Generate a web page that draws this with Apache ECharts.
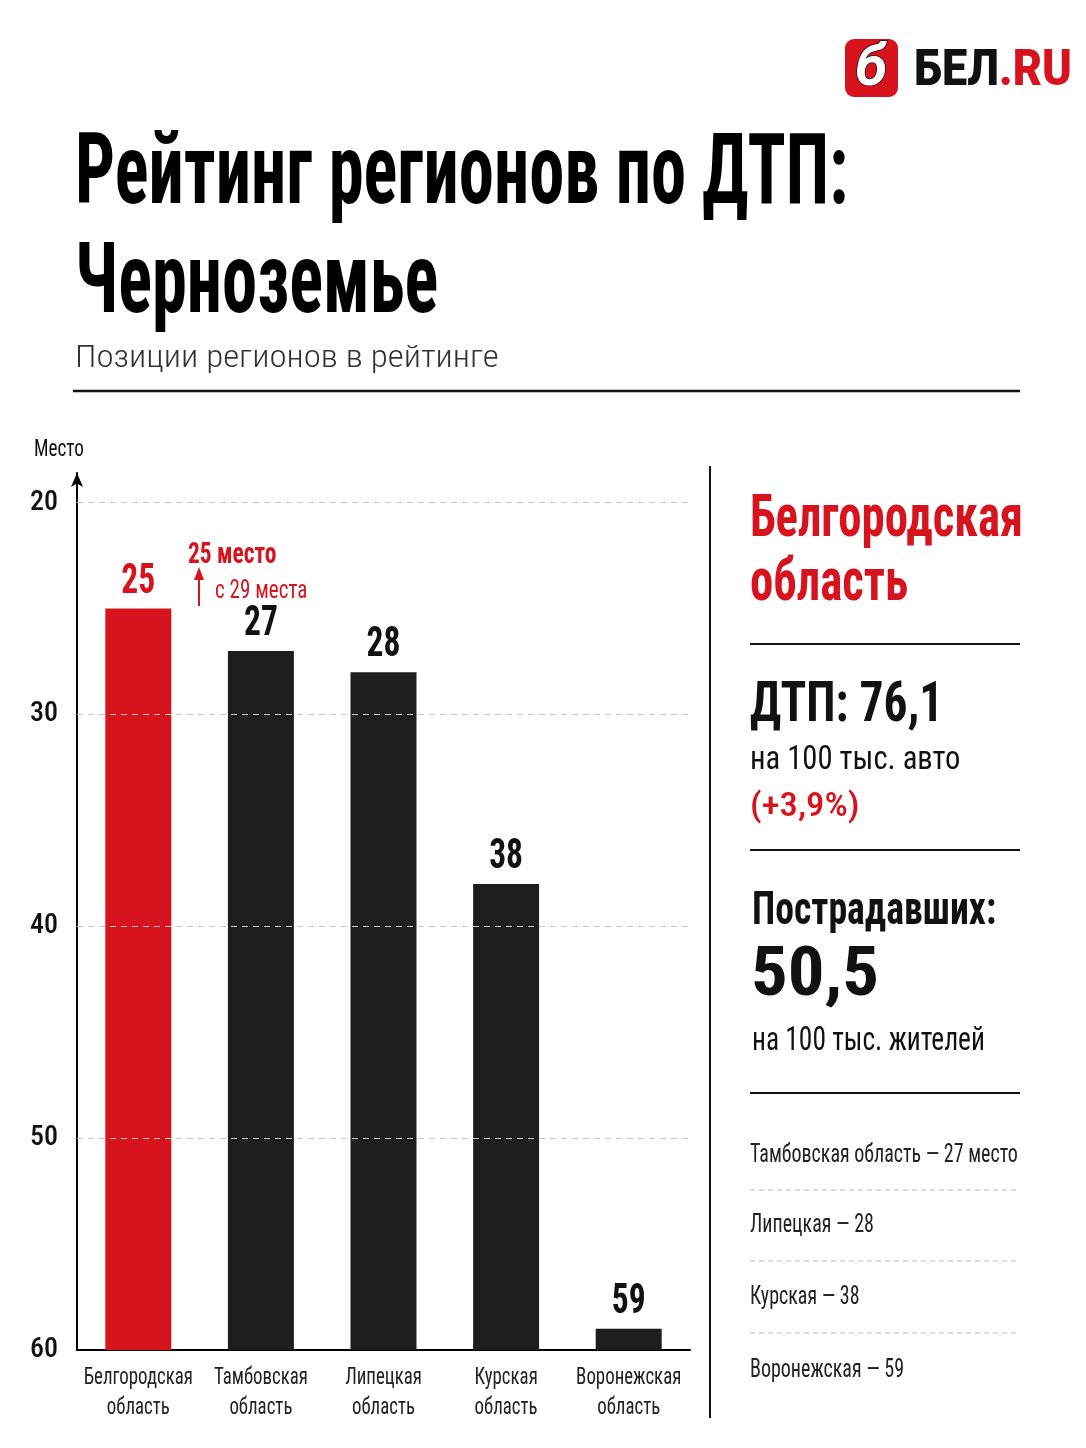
<!DOCTYPE html>
<html><head><meta charset="utf-8">
<script src="https://cdn.jsdelivr.net/npm/echarts@6/dist/echarts.min.js"></script>
<style>html,body{margin:0;padding:0;background:#fff}#c{width:1086px;height:1448px}</style>
</head><body><div id="c"></div>
<script>
const categories = ['Белгородская\nобласть','Тамбовская\nобласть','Липецкая\nобласть','Курская\nобласть','Воронежская\nобласть'];
const ranks = [25, 27, 28, 38, 59];
const yTicks = [20, 30, 40, 50, 60];
const listItems = ['Тамбовская область — 27 место','Липецкая — 28','Курская — 38','Воронежская — 59'];

const BOTTOM_RANK = 60;
const FONT = "'Liberation Sans Narrow', 'Roboto Condensed', 'DejaVu Sans Condensed', sans-serif";
const WIDE = "Roboto, 'Noto Sans', sans-serif";
const RED = '#d7141e', DARK = '#1e1e1e';

function T(x, y, text, size, weight, color, sx) {
  return { type: 'text', x: x, y: y, scaleX: sx || 1, silent: true,
    style: { text: text, fontSize: size, fontWeight: weight, fontFamily: FONT, fill: color,
      align: 'left', verticalAlign: 'middle' } };
}
function L(x1, y1, x2, y2, w, color, dash) {
  return { type: 'line', silent: true, shape: { x1: x1, y1: y1, x2: x2, y2: y2 },
    style: { stroke: color, lineWidth: w, lineDash: dash || null } };
}

const chart = echarts.init(document.getElementById('c'), null, { renderer: 'canvas' });
const option = {
  backgroundColor: '#fff',
  animation: false,
  grid: { left: 77, right: 396, top: 473, bottom: 98, containLabel: false },
  xAxis: {
    type: 'category', data: categories,
    axisLine: { lineStyle: { color: '#000', width: 2 } },
    axisTick: { show: false },
    axisLabel: { show: false }
  },
  yAxis: {
    type: 'value', min: 0, max: 41.4, interval: 10,
    axisLine: { show: true, symbol: ['none', 'arrow'], symbolSize: [9, 14], lineStyle: { color: '#000', width: 2 } },
    axisTick: { show: false },
    splitLine: { show: false },
    axisLabel: { fontFamily: FONT, fontSize: 28, fontWeight: 500, color: '#111', margin: 19,
      formatter: function (v) { return (v % 10 === 0) ? String(BOTTOM_RANK - v) : ''; } }
  },
  series: [{
    type: 'bar', barWidth: 66,
    data: ranks.map(function (r, i) {
      return { value: BOTTOM_RANK - r, itemStyle: { color: i === 0 ? RED : DARK } };
    }),
    markLine: {
      silent: true, symbol: ['none', 'none'], label: { show: false },
      lineStyle: { type: [6, 5], color: '#c8c8c8', width: 1 },
      data: yTicks.filter(function (t) { return t < BOTTOM_RANK; }).map(function (t) { return { yAxis: BOTTOM_RANK - t }; })
    }
  }, {
    type: 'custom', clip: false, silent: true,
    data: ranks.map(function (r, i) { return [i, BOTTOM_RANK - r, r]; }),
    renderItem: function (params, api) {
      const p = api.coord([api.value(0), api.value(1)]);
      const i = params.dataIndex;
      return { type: 'text', x: p[0], y: p[1] - 5, scaleX: 0.78,
        style: { text: String(api.value(2)), fontSize: 43, fontWeight: 'bold', fontFamily: FONT,
          fill: i === 0 ? RED : '#111', align: 'center', verticalAlign: 'bottom' } };
    }
  }, {
    type: 'custom', clip: false, silent: true,
    data: categories.map(function (c, i) { return [i, 0]; }),
    renderItem: function (params, api) {
      const p = api.coord([api.value(0), 0]);
      return { type: 'text', x: p[0], y: p[1] + 13, scaleX: 0.82,
        style: { text: categories[params.dataIndex], fontSize: 23, fontFamily: FONT, fill: '#222',
          align: 'center', verticalAlign: 'top', lineHeight: 30 } };
    }
  }],
  graphic: [
    { type: 'rect', silent: true, shape: { x: 845, y: 39, width: 53, height: 58, r: 9 }, style: { fill: RED } },
    { type: 'text', silent: true, x: 871, y: 70, style: { text: 'б', fontSize: 58, fontWeight: 'bold', fontStyle: 'italic', fontFamily: WIDE, fill: '#fff', stroke: '#111', lineWidth: 1.5, align: 'center', verticalAlign: 'middle' } },
    { type: 'text', silent: true, x: 914, y: 72, scaleX: 0.9,
      style: { text: '{a|БЕЛ}{b|.RU}', fontFamily: WIDE, verticalAlign: 'middle', align: 'left',
        rich: { a: { fontSize: 50, fontWeight: 900, fill: '#111', fontFamily: WIDE }, b: { fontSize: 50, fontWeight: 900, fill: RED, fontFamily: WIDE } } } },
    T(75, 178, 'Рейтинг регионов по ДТП:', 98, 'bold', '#000', 0.72),
    T(75, 287, 'Черноземье', 98, 'bold', '#000', 0.72),
    T(75, 359, 'Позиции регионов в рейтинге', 32, 300, '#333', 1.09),
    L(73, 391, 1020, 391, 2.5, '#111'),
    T(34, 450, 'Место', 24, 'normal', '#111', 0.8),
    T(188, 555, '25 место', 30, 'bold', RED, 0.78),
    L(199, 606, 199, 578, 2, RED),
    { type: 'polygon', silent: true, shape: { points: [[194, 580], [204, 580], [199, 567]] }, style: { fill: RED } },
    T(215, 591, 'с 29 места', 26, 'normal', RED, 0.81),
    L(710, 466, 710, 1418, 2, '#111'),
    T(750, 521, 'Белгородская', 60, 'bold', RED, 0.78),
    T(750, 585, 'область', 60, 'bold', RED, 0.78),
    L(750, 644, 1020, 644, 2, '#111'),
    T(750, 707, 'ДТП: 76,1', 56, 'bold', '#111', 0.85),
    T(750, 760, 'на 100 тыс. авто', 34, 'normal', '#111', 0.9),
    T(750, 807, '(+3,9%)', 34, 500, RED, 1.08),
    L(750, 850, 1020, 850, 2, '#111'),
    T(752, 912, 'Пострадавших:', 46, 'bold', '#111', 0.82),
    T(751, 978, '50,5', 68, 'bold', '#111', 1.07),
    T(752, 1042, 'на 100 тыс. жителей', 33, 'normal', '#111', 0.83),
    L(750, 1093, 1020, 1093, 2, '#111'),
    T(750, 1156, listItems[0], 25, 'normal', '#222', 0.8),
    L(750, 1190, 1018, 1190, 1, '#bbb', [5, 4]),
    T(750, 1226, listItems[1], 25, 'normal', '#222', 0.8),
    L(750, 1261, 1018, 1261, 1, '#bbb', [5, 4]),
    T(750, 1298, listItems[2], 25, 'normal', '#222', 0.8),
    L(750, 1333, 1018, 1333, 1, '#bbb', [5, 4]),
    T(750, 1371, listItems[3], 25, 'normal', '#222', 0.8)
  ]
};
chart.setOption(option);
</script></body></html>
